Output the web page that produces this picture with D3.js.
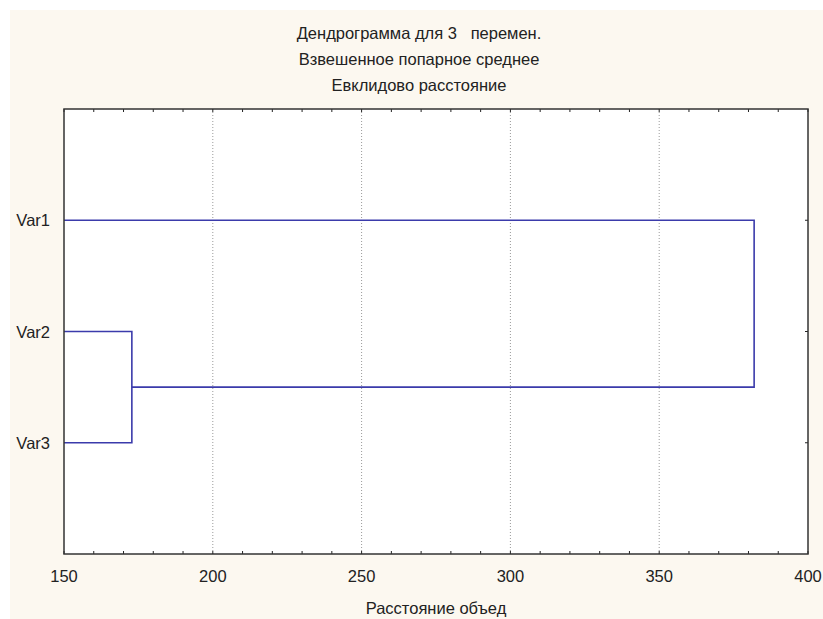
<!DOCTYPE html>
<html lang="ru">
<head>
    <meta charset="UTF-8">
    <title>Дендрограмма для 3 перемен.</title>
    <script src="https://d3js.org/d3.v7.min.js"></script>
    <style>
        body {
            margin: 0;
            background-color: #ffffff;
            font-family: 'Liberation Sans', Arial, sans-serif;
        }
        .title { font-size: 16.5px; fill: #222; white-space: pre; }
        .tick-label { font-size: 16.5px; fill: #222; }
        .axis-label { font-size: 16.5px; fill: #222; }
        .link { fill: none; stroke: #3b3bab; stroke-width: 1.6; }
        .grid { stroke: #9a9a9a; stroke-width: 1; stroke-dasharray: 1,2; }
    </style>
</head>
<body>
    <svg id="chart"></svg>

    <script>
        const titleLines = ["Дендрограмма для 3   перемен.", "Взвешенное попарное среднее", "Евклидово расстояние"];
        const xLabel = "Расстояние объед";
        const variables = ["Var1", "Var2", "Var3"];
        // merges: [left child, right child, linkage distance]
        const merges = [
            ["Var2", "Var3", 172.8],
            ["Var1", "C1", 381.9]
        ];
        const xTicks = [150, 200, 250, 300, 350, 400];

        const W = 823, H = 619;
        const margin = {top: 109, right: 15, bottom: 65, left: 64};
        const width = W - margin.left - margin.right;
        const height = H - margin.top - margin.bottom;

        const root = d3.select("#chart")
            .attr("width", W)
            .attr("height", H);

        root.append("rect")
            .attr("x", 10).attr("y", 10)
            .attr("width", W - 10).attr("height", H - 10)
            .attr("fill", "#fcf8f0");

        const svg = root.append("g")
            .attr("transform", `translate(${margin.left},${margin.top})`);

        const x = d3.scaleLinear().domain([150, 400]).range([0, width]);
        const y = d3.scalePoint().domain(variables).range([0, height]).padding(1);

        svg.append("rect")
            .attr("width", width).attr("height", height)
            .attr("fill", "#ffffff");

        // grid lines at major ticks
        svg.selectAll(".grid")
            .data(xTicks.slice(1, -1))
            .enter().append("line")
            .attr("class", "grid")
            .attr("x1", d => x(d)).attr("x2", d => x(d))
            .attr("y1", 0).attr("y2", height);

        // inward ticks, top and bottom
        const minor = d3.range(150, 401, 10);
        const tickG = svg.append("g").attr("stroke", "#222").attr("stroke-width", 1);
        tickG.selectAll(".tb")
            .data(minor)
            .enter().append("line")
            .attr("x1", d => x(d)).attr("x2", d => x(d))
            .attr("y1", height).attr("y2", height - 3);
        tickG.selectAll(".tt")
            .data(minor)
            .enter().append("line")
            .attr("x1", d => x(d)).attr("x2", d => x(d))
            .attr("y1", 0).attr("y2", 3);
        tickG.selectAll(".tr")
            .data(variables)
            .enter().append("line")
            .attr("x1", width).attr("x2", width - 3)
            .attr("y1", d => y(d)).attr("y2", d => y(d));

        // dendrogram
        const nodes = {};
        variables.forEach(v => nodes[v] = {x: 150, y: y(v)});
        merges.forEach((m, i) => {
            const a = nodes[m[0]], b = nodes[m[1]];
            const id = "C" + (i + 1);
            nodes[id] = {x: m[2], y: (a.y + b.y) / 2};
            const path = d3.path();
            path.moveTo(x(a.x), a.y);
            path.lineTo(x(m[2]), a.y);
            path.lineTo(x(m[2]), b.y);
            path.lineTo(x(b.x), b.y);
            svg.append("path").attr("class", "link").attr("d", path.toString());
        });

        // frame
        svg.append("rect")
            .attr("width", width).attr("height", height)
            .attr("fill", "none")
            .attr("stroke", "#333").attr("stroke-width", 1.5);

        svg.selectAll(".xl")
            .data(xTicks)
            .enter().append("text")
            .attr("class", "tick-label")
            .attr("x", d => x(d))
            .attr("y", height + 28)
            .attr("text-anchor", "middle")
            .text(d => d);

        svg.selectAll(".yl")
            .data(variables)
            .enter().append("text")
            .attr("class", "tick-label")
            .attr("x", -14)
            .attr("y", d => y(d) + 6)
            .attr("text-anchor", "end")
            .text(d => d);

        svg.append("text")
            .attr("class", "axis-label")
            .attr("x", width / 2)
            .attr("y", height + 60)
            .attr("text-anchor", "middle")
            .text(xLabel);

        root.selectAll(".title")
            .data(titleLines)
            .enter().append("text")
            .attr("class", "title")
            .attr("x", 419)
            .attr("y", (d, i) => 39 + i * 26)
            .attr("text-anchor", "middle")
            .text(d => d);
    </script>
</body>
</html>
